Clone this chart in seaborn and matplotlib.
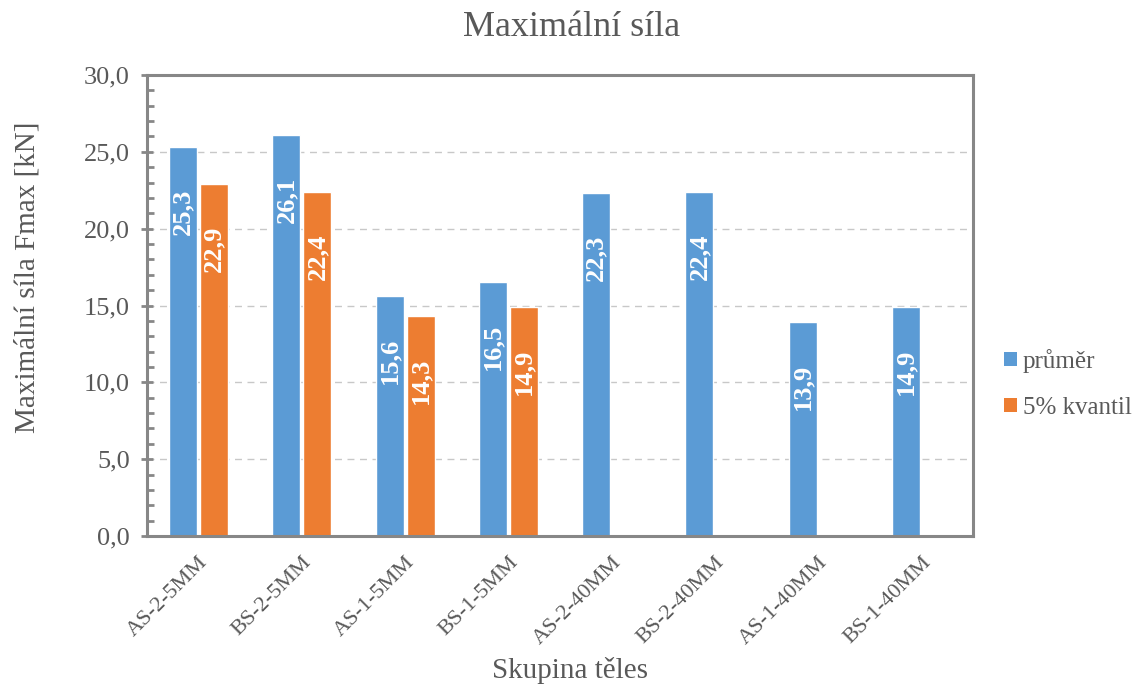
import numpy as np
import pandas as pd
import matplotlib
matplotlib.use("Agg")
import matplotlib.pyplot as plt
import seaborn as sns
from matplotlib.ticker import MultipleLocator, FuncFormatter
from matplotlib.patches import Patch

categories = ["AS-2-5MM", "BS-2-5MM", "AS-1-5MM", "BS-1-5MM",
              "AS-2-40MM", "BS-2-40MM", "AS-1-40MM", "BS-1-40MM"]
prumer = [25.3, 26.1, 15.6, 16.5, 22.3, 22.4, 13.9, 14.9]
kvantil = [22.9, 22.4, 14.3, 14.9, np.nan, np.nan, np.nan, np.nan]
series_names = ["průměr", "5% kvantil"]
colors = ["#5B9BD5", "#ED7D31"]

df = pd.DataFrame({
    "Skupina": categories * 2,
    "Hodnota": prumer + kvantil,
    "Řada": [series_names[0]] * len(categories) + [series_names[1]] * len(categories),
})

sns.set_theme(style="white")
plt.rcParams["font.family"] = ["Liberation Serif", "DejaVu Serif"]
TXT = "#595959"
AX = "#878787"

W, H = 1134, 684
fig = plt.figure(figsize=(W / 100, H / 100), dpi=100)
ax = fig.add_axes([147 / W, 1 - 536 / H, (973 - 147) / W, (536 - 75) / H])

sns.barplot(data=df, x="Skupina", y="Hodnota", hue="Řada", hue_order=series_names,
            order=categories, palette=colors, width=0.6, gap=0.1, saturation=1,
            ax=ax, legend=False, errorbar=None)

ax.set_ylim(0, 30)
ax.set_xlim(-0.5, len(categories) - 0.5)
ax.yaxis.set_major_locator(MultipleLocator(5))
ax.yaxis.set_minor_locator(MultipleLocator(1))
ax.yaxis.set_major_formatter(FuncFormatter(lambda v, p: f"{v:.1f}".replace(".", ",")))
ax.grid(axis="y", which="major", color="#C8C8C8", linestyle=(0, (5, 4)), linewidth=1)
ax.set_axisbelow(True)

for s in ax.spines.values():
    s.set_color(AX)
    s.set_linewidth(2.2)

ax.tick_params(axis="y", which="major", direction="inout", length=9, width=2, color=AX,
               labelsize=19, labelcolor=TXT, pad=8, left=True)
ax.tick_params(axis="y", which="minor", direction="in", length=5, width=2, color=AX, left=True)
ax.tick_params(axis="x", which="both", bottom=False, labelsize=16, labelcolor=TXT, pad=6)
for lab in ax.get_xticklabels():
    lab.set_rotation(45)
    lab.set_ha("right")
    lab.set_rotation_mode("anchor")

ax.set_xlabel("")
ax.set_ylabel("")
fig.text(570 / W, 1 - 670 / H, "Skupina těles", ha="center", va="center",
         fontsize=21, color=TXT)
fig.text(28 / W, 1 - 277 / H, "Maximální síla Fmax [kN]", ha="center", va="center",
         rotation=90, fontsize=21, color=TXT)
fig.text(572 / W, 1 - 27 / H, "Maximální síla", ha="center", va="center",
         fontsize=26, color=TXT)

for cont in ax.containers:
    for bar, val in zip(cont, cont.datavalues):
        if np.isnan(val) or bar.get_height() == 0:
            continue
        ax.annotate(f"{val:.1f}".replace(".", ","),
                    xy=(bar.get_x() + bar.get_width() / 2, bar.get_height()),
                    xytext=(0, -30), textcoords="offset points",
                    rotation=90, ha="center", va="top",
                    color="white", fontsize=19, fontweight="bold")

handles = [Patch(facecolor=c, edgecolor="none") for c in colors]
fig.legend(handles, series_names, loc="center left", bbox_to_anchor=(1004 / W, 1 - 384 / H),
           frameon=False, fontsize=18, labelcolor=TXT, handlelength=0.5, handleheight=0.5,
           handletextpad=0.25, labelspacing=0.95, borderaxespad=0, borderpad=0)

fig.savefig("out.png", dpi=100)
